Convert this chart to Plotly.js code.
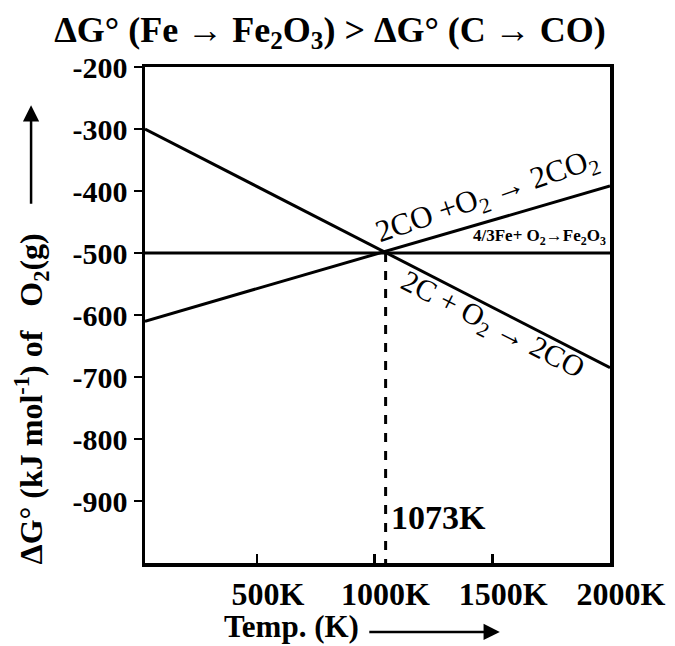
<!DOCTYPE html>
<html><head><meta charset="utf-8">
<script src="https://cdn.plot.ly/plotly-3.0.1.min.js"></script>
<style>html,body{margin:0;padding:0;background:#fff}</style>
</head><body>
<div id="chart" style="width:675px;height:646px"></div>
<script>
// Data
const tempRange = [25, 2000];
const lineCtoCO = [-300, -685];      // 2C + O2 -> 2CO at tempRange ends
const lineCOtoCO2 = [-610, -392];    // 2CO + O2 -> 2CO2
const lineFe = [-500, -500];         // 4/3Fe + O2 -> 2/3Fe2O3
const crossT = 1047;                 // dashed marker position
const crossG = [-500, -1000];
const xTickVals = [500, 1000, 1500, 2000];
const xTickText = ['500K', '1000K', '1500K', '2000K'];
const yTickVals = [-200, -300, -400, -500, -600, -700, -800, -900];
const yTickText = ['-200', '-300', '-400', '-500', '-600', '-700', '-800', '-900'];

const font = 'Liberation Serif, Times New Roman, serif';
const blk = '#000';

const traces = [
  {x: tempRange, y: lineCtoCO, mode: 'lines', line: {color: blk, width: 3}, hoverinfo: 'skip'},
  {x: tempRange, y: lineCOtoCO2, mode: 'lines', line: {color: blk, width: 3}, hoverinfo: 'skip'},
  {x: tempRange, y: lineFe, mode: 'lines', line: {color: blk, width: 3}, hoverinfo: 'skip'},
  {x: [crossT, crossT], y: crossG, mode: 'lines', line: {color: blk, width: 3, dash: 'dash'}, hoverinfo: 'skip'}
];

const layout = {
  width: 675, height: 646,
  margin: {l: 145, r: 65, t: 67, b: 83},
  paper_bgcolor: '#fff', plot_bgcolor: '#fff',
  showlegend: false,
  title: {text: '<b>ΔG° (Fe → Fe<sub>2</sub>O<sub>3</sub>) > ΔG° (C → CO)</b>',
          font: {family: font, size: 36, color: blk}, x: 0.489, xanchor: 'center', y: 0.955, yanchor: 'middle'},
  xaxis: {range: tempRange, tickvals: xTickVals, ticktext: xTickText,
          ticks: 'inside', ticklen: 9, tickwidth: 2.5, tickcolor: blk,
          showline: true, linewidth: 3.5, linecolor: blk, mirror: true,
          showgrid: false, zeroline: false, ticklabelshift: 11,
          tickfont: {family: font, size: 32, color: blk, weight: 'bold'}},
  yaxis: {range: [-1000, -200], tickvals: yTickVals, ticktext: yTickText,
          ticks: 'outside', ticklen: 8, tickwidth: 2.5, tickcolor: blk,
          showline: true, linewidth: 3.5, linecolor: blk, mirror: true,
          showgrid: false, zeroline: false,
          tickfont: {family: font, size: 30, color: blk, weight: 'bold'}},
  annotations: [
    {xref: 'paper', yref: 'paper', x: -0.245, y: 0.33, xanchor: 'center', yanchor: 'middle', textangle: -90, showarrow: false,
     text: '<b>ΔG° (kJ mol<sup>-1</sup>) of   O<sub>2</sub>(g)</b>', font: {family: font, size: 32, color: blk}},
    {xref: 'paper', yref: 'paper', x: -0.245, y: 0.923, showarrow: true, ax: 0, ay: 100, text: '',
     arrowhead: 2, arrowsize: 1.3, arrowwidth: 2.5, arrowcolor: blk},
    {xref: 'paper', yref: 'paper', x: 0.462, y: -0.128, xanchor: 'right', yanchor: 'middle', showarrow: false,
     borderpad: 0, text: '<b>Temp. (K)</b>', font: {family: font, size: 31, color: blk}},
    {xref: 'paper', yref: 'paper', x: 0.763, y: -0.139, showarrow: true, ax: -132, ay: 0, text: '',
     arrowhead: 2, arrowsize: 1.3, arrowwidth: 2.5, arrowcolor: blk},
    {x: 1480, y: -410, textangle: -19, showarrow: false,
     text: '2CO +O<sub>2</sub> → 2CO<sub>2</sub>', font: {family: font, size: 31, color: blk}},
    {x: 1500, y: -617, textangle: 27, showarrow: false,
     text: '2C + O<sub>2</sub> → 2CO', font: {family: font, size: 30, color: blk}},
    {x: 1992, y: -474, xanchor: 'right', showarrow: false,
     text: '<b>4/3Fe+ O<sub>2</sub>→Fe<sub>2</sub>O<sub>3</sub></b>', font: {family: font, size: 17, color: blk}},
    {x: 1063, y: -927, xanchor: 'left', showarrow: false,
     text: '<b>1073K</b>', font: {family: font, size: 34, color: blk}}
  ]
};
Plotly.newPlot('chart', traces, layout, {displayModeBar: false, staticPlot: true});
</script>
</body></html>
